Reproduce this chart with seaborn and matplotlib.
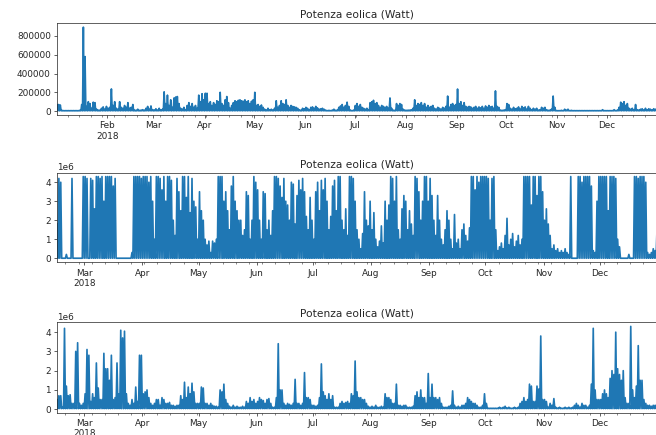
import numpy as np
import pandas as pd
import matplotlib
matplotlib.use("Agg")
import matplotlib.pyplot as plt
import matplotlib.dates as mdates
from matplotlib.ticker import FuncFormatter
import seaborn as sns

# daily peak values (one row per month)
# top panel, kW, 1 Jan - 31 Dec 2018
peaks_top = [
    70, 70, 65, 8, 5, 5, 5, 5, 5, 5, 5, 5, 5, 5, 10, 70, 893, 580, 50, 100, 80, 30, 95, 90, 20, 10, 10, 30, 45, 20, 50,
    30, 40, 236, 60, 100, 30, 20, 100, 40, 30, 60, 40, 90, 30, 40, 70, 10, 8, 20, 8, 10, 15, 8, 30, 50, 20, 55, 15,
    10, 25, 10, 30, 10, 20, 205, 80, 170, 60, 120, 40, 140, 150, 155, 80, 30, 20, 40, 15, 60, 90, 50, 80, 40, 60, 30, 170, 100, 185, 120,
    190, 190, 80, 100, 60, 90, 70, 110, 100, 200, 80, 60, 120, 155, 90, 30, 60, 90, 110, 100, 115, 120, 110, 105, 120, 100, 110, 80, 105, 120,
    200, 60, 70, 50, 65, 40, 20, 10, 30, 15, 20, 10, 30, 110, 40, 60, 110, 80, 70, 120, 60, 40, 60, 50, 45, 40, 30, 15, 8, 30, 25,
    40, 30, 10, 40, 45, 30, 50, 35, 20, 25, 30, 20, 10, 5, 8, 5, 10, 20, 8, 10, 40, 55, 70, 40, 60, 95, 50, 10, 5, 10,
    60, 80, 50, 70, 40, 30, 20, 30, 15, 90, 100, 115, 80, 90, 60, 40, 60, 50, 40, 50, 30, 140, 30, 10, 8, 80, 60, 80, 70, 20, 10,
    8, 10, 10, 15, 30, 120, 60, 80, 70, 90, 60, 80, 40, 60, 40, 50, 60, 30, 20, 40, 30, 20, 40, 30, 50, 160, 40, 70, 80, 60, 70,
    235, 80, 100, 60, 90, 50, 40, 50, 45, 30, 40, 50, 30, 45, 35, 50, 30, 55, 40, 60, 45, 50, 30, 215, 50, 40, 10, 8, 10, 15,
    80, 70, 30, 20, 40, 25, 30, 45, 20, 50, 35, 45, 20, 50, 30, 15, 30, 20, 30, 10, 15, 40, 30, 40, 15, 8, 10, 20, 160, 40, 5,
    5, 5, 8, 5, 20, 10, 20, 5, 8, 5, 5, 5, 5, 5, 5, 5, 5, 5, 5, 5, 5, 5, 5, 5, 5, 5, 5, 15, 5, 5,
    5, 5, 5, 5, 15, 5, 10, 40, 95, 80, 100, 60, 80, 30, 20, 30, 10, 70, 15, 10, 20, 25, 10, 30, 15, 25, 20, 10, 25, 20, 15,
]
base_top = 3  # kW

# middle panel, MW, 14 Feb - 31 Dec 2018
peaks_mid = [
    1.8, 4.2, 4.0, 0, 0, 0.2, 0, 0, 4.2, 0, 0, 0, 0, 0, 4.3,
    4.3, 4.2, 0, 4.2, 4.1, 2.6, 4.3, 4.3, 4.2, 4.3, 3.0, 4.3, 4.3, 4.3, 4.3, 3.8, 4.2, 0, 0, 0, 0, 0, 0, 0, 0, 0.3, 4.3, 4.3, 4.3, 4.3, 4.2,
    4.3, 4.3, 4.3, 4.0, 4.3, 3.0, 1.0, 4.3, 4.3, 4.2, 3.6, 4.3, 3.0, 4.3, 4.3, 4.1, 2.0, 1.2, 4.2, 3.5, 2.5, 4.3, 4.3, 3.2, 4.3, 2.4, 4.2, 3.0, 2.7, 1.0,
    3.5, 2.5, 2.0, 1.0, 0.7, 0.9, 0.3, 0.9, 0.8, 1.0, 4.3, 4.3, 4.3, 3.0, 3.5, 2.5, 1.5, 3.8, 4.3, 3.0, 2.5, 2.0, 2.0, 1.2, 1.5, 3.5, 3.3, 1.0, 2.0, 4.3, 4.0,
    3.6, 2.0, 1.0, 3.5, 3.4, 1.5, 2.0, 1.2, 2.5, 4.3, 4.3, 4.2, 3.8, 3.2, 4.2, 3.0, 2.8, 2.0, 4.0, 3.9, 1.8, 3.3, 4.1, 3.6, 4.2, 3.5, 2.2, 1.5, 3.2, 2.0,
    1.0, 3.5, 4.0, 2.5, 4.1, 3.6, 4.2, 3.0, 1.5, 2.2, 3.8, 4.1, 2.5, 4.3, 4.3, 2.0, 1.5, 2.6, 1.2, 4.3, 4.3, 4.2, 3.0, 1.5, 1.0, 0.5, 1.3, 3.5, 2.0, 1.7, 3.0,
    1.5, 2.4, 1.0, 0.6, 0.9, 1.7, 0.8, 3.0, 2.0, 2.8, 4.3, 4.2, 3.0, 4.3, 1.5, 1.0, 2.6, 3.3, 3.0, 1.5, 2.5, 1.8, 1.2, 4.3, 4.2, 3.5, 2.0, 3.0, 4.3, 4.3, 3.0,
    4.2, 3.3, 2.0, 1.2, 3.3, 2.0, 1.0, 0.7, 1.5, 2.5, 2.0, 1.0, 0.5, 2.3, 0.8, 1.0, 0.5, 1.5, 1.8, 1.2, 0.9, 1.6, 4.3, 4.3, 3.6, 4.3, 4.0, 4.3, 4.3, 4.3,
    4.3, 4.2, 2.0, 4.2, 4.3, 1.5, 0.4, 0.6, 0.8, 0.5, 1.2, 2.1, 0.7, 1.0, 1.3, 0.6, 0.9, 1.2, 0.7, 1.0, 4.3, 4.3, 4.3, 4.3, 2.8, 4.3, 4.3, 3.3, 4.3, 4.3, 3.5,
    2.0, 2.6, 1.8, 1.2, 0.5, 0.7, 0.4, 0.5, 0.3, 0.4, 0.3, 0.5, 0.3, 0.2, 4.3, 0, 0, 0, 4.3, 4.3, 4.0, 4.3, 4.3, 4.3, 4.3, 3.8, 0.4, 0.3, 3.0, 4.3,
    4.3, 4.3, 4.3, 4.3, 2.5, 4.3, 4.3, 4.3, 4.2, 1.0, 0.6, 0, 0, 0, 0, 0.2, 0, 0, 4.3, 4.3, 4.2, 4.3, 4.3, 4.3, 4.0, 0.3, 0.2, 0.3, 0.5, 0.4, 1.5,
]
base_mid = 0.0

# bottom panel, MW, 14 Feb - 31 Dec 2018
peaks_bot = [
    0.5, 0.7, 0.7, 0.1, 4.2, 1.2, 0.7, 0.75, 0.3, 0.3, 3.0, 3.45, 0.3, 0.2, 0.3,
    0.8, 3.1, 2.8, 0.4, 0.8, 0.6, 2.4, 1.1, 0.5, 0.5, 2.9, 2.1, 2.1, 1.5, 2.8, 0.5, 0.6, 2.4, 0.8, 4.1, 3.7, 4.05, 0.8, 0.3, 0.2, 0.5, 0.3, 1.15, 0.4, 2.8, 2.8,
    0.8, 0.9, 1.0, 0.6, 0.3, 0.2, 0.3, 0.5, 0.5, 0.2, 0.6, 0.5, 0.3, 0.3, 0.35, 0.2, 0.2, 0.15, 0.2, 0.2, 0.7, 0.5, 1.4, 0.6, 1.15, 0.8, 1.35, 0.9, 0.3, 0.3,
    0.3, 1.15, 1.1, 0.3, 0.3, 0.2, 0.3, 0.2, 0.15, 0.15, 0.1, 1.0, 0.9, 1.3, 0.5, 0.3, 0.15, 0.1, 0.2, 0.1, 0.15, 0.1, 0.1, 0.15, 0.1, 0.4, 0.3, 0.6, 0.4, 0.5, 0.3,
    0.4, 0.6, 0.5, 0.45, 0.3, 0.5, 0.55, 0.3, 0.1, 0.1, 0.6, 3.4, 1.0, 1.0, 0.3, 0.2, 0.3, 0.25, 0.2, 0.3, 1.55, 0.3, 0.3, 0.2, 0.3, 1.9, 0.6, 0.6, 0.5, 0.2,
    0.2, 0.15, 0.2, 0.6, 2.35, 0.9, 0.7, 0.5, 0.8, 0.5, 0.7, 0.1, 0.1, 0.1, 0.3, 0.4, 0.3, 0.35, 0.4, 0.3, 0.8, 0.7, 2.5, 0.9, 0.6, 0.6, 0.5, 0.5, 0.3, 0.15, 0.1,
    0.15, 0.1, 0.2, 0.1, 0.1, 0.15, 0.1, 0.8, 0.6, 0.6, 0.5, 0.3, 0.3, 1.3, 0.2, 0.2, 0.15, 0.2, 0.2, 0.1, 0.1, 0.1, 0.15, 0.7, 0.9, 0.6, 1.0, 0.6, 0.6, 0.3, 1.85,
    0.6, 1.3, 0.6, 0.6, 0.5, 0.6, 0.3, 0.1, 0.1, 0.1, 0.15, 0.2, 0.95, 0.2, 0.1, 0.15, 0.1, 0.2, 0.2, 0.3, 0.6, 0.5, 0.4, 0.3, 0.3, 0.2, 0.1, 0.1, 0.2, 0.8,
    0.3, 0.05, 0.05, 0.05, 0.05, 0.05, 0.05, 0.1, 0.05, 0.1, 0.15, 0.05, 0.1, 0.05, 0.05, 0.1, 0.05, 0.1, 0.3, 0.4, 0.6, 0.4, 0.5, 1.3, 1.2, 0.4, 0.4, 1.2, 1.05, 3.8, 0.5,
    0.5, 0.4, 0.1, 0.3, 0.2, 0.55, 0.1, 0.05, 0.1, 0.05, 0.05, 0.1, 0.05, 0.1, 0.05, 0.1, 0.2, 0.3, 0.2, 0.1, 0.3, 0.2, 0.2, 0.1, 0.2, 1.3, 4.2, 1.0, 0.5, 0.5,
    0.5, 0.8, 1.0, 0.8, 0.6, 1.6, 2.0, 1.8, 4.0, 2.1, 1.8, 1.5, 2.0, 0.6, 0.3, 0.3, 4.3, 1.0, 0.6, 1.2, 3.3, 1.5, 1.5, 0.5, 0.3, 0.2, 0.2, 0.15, 0.2, 0.2, 0.3,
]
base_bot = 0.03

title = "Potenza eolica (Watt)"


def build_frame(start, peaks, base, unit):
    """peak at noon of each day, back down to the base at midnight"""
    days = pd.date_range(start, periods=len(peaks), freq="D")
    noon = days + pd.Timedelta(hours=12)
    times = np.empty(2 * len(days) - 1, dtype="datetime64[ns]")
    times[0::2] = noon.values
    times[1::2] = days[1:].values
    vals = np.empty(len(times))
    vals[0::2] = np.asarray(peaks, dtype=float) * unit
    vals[1::2] = base * unit
    return pd.DataFrame({"time": times, "power": vals})


def month_formatter(ax):
    left = mdates.num2date(ax.get_xlim()[0])
    first = (left.year, left.month + 1) if left.month < 12 else (left.year + 1, 1)

    def fmt(x, pos):
        d = mdates.num2date(x)
        lab = d.strftime("%b")
        if (d.year, d.month) == first:
            lab += "\n" + str(d.year)
        return lab
    return FuncFormatter(fmt)


sns.set_style("ticks")
plt.rcParams["font.family"] = ["DejaVu Sans"]

fig = plt.figure(figsize=(656 / 64, 435 / 64), dpi=64)

frames = [
    build_frame("2018-01-01", peaks_top, base_top, 1e3),
    build_frame("2018-02-14", peaks_mid, base_mid, 1e6),
    build_frame("2018-02-14", peaks_bot, base_bot, 1e6),
]
# axes boxes in pixels: top, bottom (left 57, right 657)
boxes = [(23, 115), (172.5, 262.3), (322.3, 412.7)]

for df, (top, bottom) in zip(frames, boxes):
    ax = fig.add_axes([57 / 656, (435 - bottom) / 435, 600 / 656, (bottom - top) / 435])
    sns.lineplot(data=df, x="time", y="power", ax=ax, color="#1f77b4",
                 linewidth=1.9, estimator=None)
    ax.set_xlim(df["time"].min(), df["time"].max())
    ax.set(xlabel="", ylabel="", title=title)
    ax.xaxis.set_major_locator(mdates.MonthLocator())
    ax.xaxis.set_minor_locator(mdates.WeekdayLocator(byweekday=mdates.MO))
    ax.xaxis.set_major_formatter(month_formatter(ax))
    ax.tick_params(axis="both", which="major", labelsize=10, length=3.5)
    ax.tick_params(axis="x", which="minor", length=2)
    for lab in ax.get_xticklabels():
        lab.set_ha("center")
    ax.title.set_fontsize(12)

fig.savefig("out.png", dpi=64)
